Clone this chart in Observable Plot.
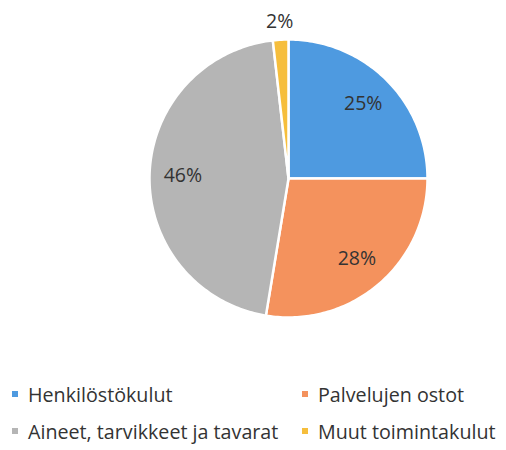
<!DOCTYPE html>
<html>
<head>
<meta charset="utf-8">
<script src="https://cdn.jsdelivr.net/npm/d3@7"></script>
<script src="https://cdn.jsdelivr.net/npm/@observablehq/plot@0.6"></script>
<style>
  body { margin: 0; background: #fff; font-family: "Open Sans", sans-serif; }
  #chart { position: relative; width: 506px; height: 450px; }
  .legend { position: absolute; left: 0; top: 384px; width: 506px; display: grid;
    grid-template-columns: 290px 216px; row-gap: 17px; color: #333; font-size: 19.7px; }
  .legend .item { display: flex; align-items: center; height: 20px; white-space: nowrap; }
  .legend .sw { width: 6px; height: 6px; margin-left: 12px; margin-right: 10px; }
</style>
</head>
<body>
<div id="chart"></div>
<script>
const categories = ["Henkilöstökulut", "Palvelujen ostot", "Aineet, tarvikkeet ja tavarat", "Muut toimintakulut"];
const values = [25, 27.6, 45.6, 1.8];
const colors = ["#4e9ae0", "#f4925d", "#b5b5b5", "#f6be3c"];

const W = 506, H = 370, R = 139, CX = 288, CY = 178;
const total = d3.sum(values);
const arcs = d3.pie().sort(null).value(d => d)(values);

const polys = [];
arcs.forEach((a, i) => {
  polys.push({i, x: 0, y: 0});
  const n = Math.max(2, Math.ceil((a.endAngle - a.startAngle) / (Math.PI / 180)));
  for (let k = 0; k <= n; k++) {
    const t = a.startAngle + (a.endAngle - a.startAngle) * k / n;
    polys.push({i, x: Math.sin(t), y: Math.cos(t)});
  }
});

const labels = arcs.map((a, i) => {
  const pct = values[i] / total * 100;
  const m = (a.startAngle + a.endAngle) / 2;
  const r = pct < 5 ? 1.13 : 0.76;
  return {i, x: r * Math.sin(m), y: r * Math.cos(m), text: d3.format(".0f")(pct) + "%"};
});

const plot = Plot.plot({
  width: W, height: H,
  margin: 0,
  x: {domain: [-CX / R, (W - CX) / R], range: [0, W], axis: null},
  y: {domain: [-(H - CY) / R, CY / R], range: [H, 0], axis: null},
  style: {fontFamily: "'Open Sans', sans-serif", background: "#fff"},
  marks: [
    Plot.line(polys, {x: "x", y: "y", z: "i", fill: d => colors[d.i], stroke: "#fff", strokeWidth: 2.5, curve: "linear-closed"}),
    Plot.text(labels, {x: "x", y: "y", text: "text", fill: "#333", fontSize: 19.5})
  ]
});

const chart = document.getElementById("chart");
chart.appendChild(plot);
const legend = document.createElement("div");
legend.className = "legend";
categories.forEach((c, i) => {
  const item = document.createElement("div");
  item.className = "item";
  const sw = document.createElement("span");
  sw.className = "sw";
  sw.style.background = colors[i];
  const tx = document.createElement("span");
  tx.textContent = c;
  item.appendChild(sw); item.appendChild(tx);
  legend.appendChild(item);
});
chart.appendChild(legend);
</script>
</body>
</html>
